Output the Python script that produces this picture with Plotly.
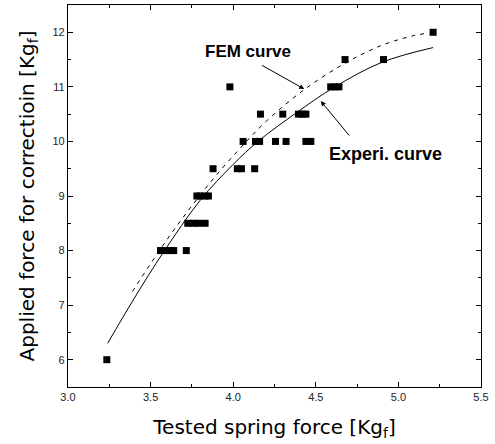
import plotly.graph_objects as go

# Measured data (squares)
x_pts = [3.235, 5.21, 4.677, 4.91, 3.98,
         4.59, 4.615, 4.64,
         4.165, 4.30, 4.395, 4.42, 4.44,
         4.06, 4.135, 4.16, 4.256, 4.32, 4.44, 4.47,
         3.878, 4.025, 4.05, 4.13,
         3.78, 3.80, 3.83, 3.85,
         3.725, 3.76, 3.79, 3.83,
         3.56, 3.59, 3.62, 3.64, 3.716]
y_pts = [6.0, 12.0, 11.5, 11.5, 11.0,
         11.0, 11.0, 11.0,
         10.5, 10.5, 10.5, 10.5, 10.5,
         10.0, 10.0, 10.0, 10.0, 10.0, 10.0, 10.0,
         9.5, 9.5, 9.5, 9.5,
         9.0, 9.0, 9.0, 9.0,
         8.5, 8.5, 8.5, 8.5,
         8.0, 8.0, 8.0, 8.0, 8.0]

# FEM curve (dashed)
x_fem = [3.39, 3.50, 3.62, 3.76, 3.90, 4.05, 4.20, 4.43, 4.67, 4.89, 5.08, 5.17]
y_fem = [7.25, 7.76, 8.29, 8.86, 9.39, 9.90, 10.37, 10.95, 11.42, 11.75, 11.93, 11.98]

# Experimental curve (solid)
x_exp = [3.24, 3.40, 3.58, 3.80, 4.00, 4.15, 4.38, 4.61, 4.90, 5.21]
y_exp = [6.30, 7.12, 7.98, 8.92, 9.58, 10.00, 10.52, 10.99, 11.45, 11.72]

x_ticks = [3.0, 3.5, 4.0, 4.5, 5.0, 5.5]
y_ticks = [6, 7, 8, 9, 10, 11, 12]

fig = go.Figure()
fig.add_trace(go.Scatter(x=x_exp, y=y_exp, mode="lines",
                         line=dict(color="black", width=1, shape="spline", smoothing=1.0),
                         showlegend=False))
fig.add_trace(go.Scatter(x=x_fem, y=y_fem, mode="lines",
                         line=dict(color="black", width=1, dash="4px,5px", shape="spline", smoothing=1.0),
                         showlegend=False))
fig.add_trace(go.Scatter(x=x_pts, y=y_pts, mode="markers",
                         marker=dict(symbol="square", size=7, color="black"), showlegend=False))

font = "Liberation Sans, Arial, sans-serif"
title_font = dict(family="DejaVu Sans, sans-serif", size=20, color="black")
axis_common = dict(showline=True, linecolor="black", linewidth=1.2, mirror="ticks",
                   ticks="inside", ticklen=5, tickcolor="black", showgrid=False, zeroline=False,
                   automargin=False,
                   tickfont=dict(family=font, size=11, color="#222"))

fig.update_xaxes(range=[3.0, 5.5], tickvals=x_ticks, ticktext=[f"{v:.1f}" for v in x_ticks],
                 minor=dict(ticks="inside", ticklen=3, dtick=0.25, tickcolor="black", showgrid=False),
                 title=dict(text="Tested spring force [Kg<sub>f</sub>]", font=title_font, standoff=17),
                 **axis_common)
fig.update_yaxes(range=[5.5, 12.5], tickvals=y_ticks, ticktext=[str(v) for v in y_ticks],
                 minor=dict(ticks="inside", ticklen=3, dtick=0.5, tickcolor="black", showgrid=False),
                 title=dict(text="Applied force for correctioin [Kg<sub>f</sub>]", font=title_font, standoff=12),
                 **axis_common)

ann_font = dict(family=font, size=17, color="black")
fig.add_annotation(x=4.09, y=11.65, text="<b>FEM curve</b>", showarrow=False, font=ann_font)
fig.add_annotation(x=4.92, y=9.77, text="<b>Experi. curve</b>", showarrow=False,
                   font=dict(family=font, size=18, color="black"))
fig.add_annotation(x=4.43, y=10.96, ax=4.165, ay=11.41, axref="x", ayref="y", text="",
                   showarrow=True, arrowhead=2, arrowsize=1, arrowwidth=1, arrowcolor="black")
fig.add_annotation(x=4.53, y=10.74, ax=4.71, ay=10.08, axref="x", ayref="y", text="",
                   showarrow=True, arrowhead=2, arrowsize=1, arrowwidth=1, arrowcolor="black")

fig.update_layout(width=495, height=444, margin=dict(l=68, r=14, t=5, b=57),
                  plot_bgcolor="white", paper_bgcolor="white")

fig.write_html("out.html", config={"displayModeBar": False},
               post_script="document.body.style.margin='0';")
